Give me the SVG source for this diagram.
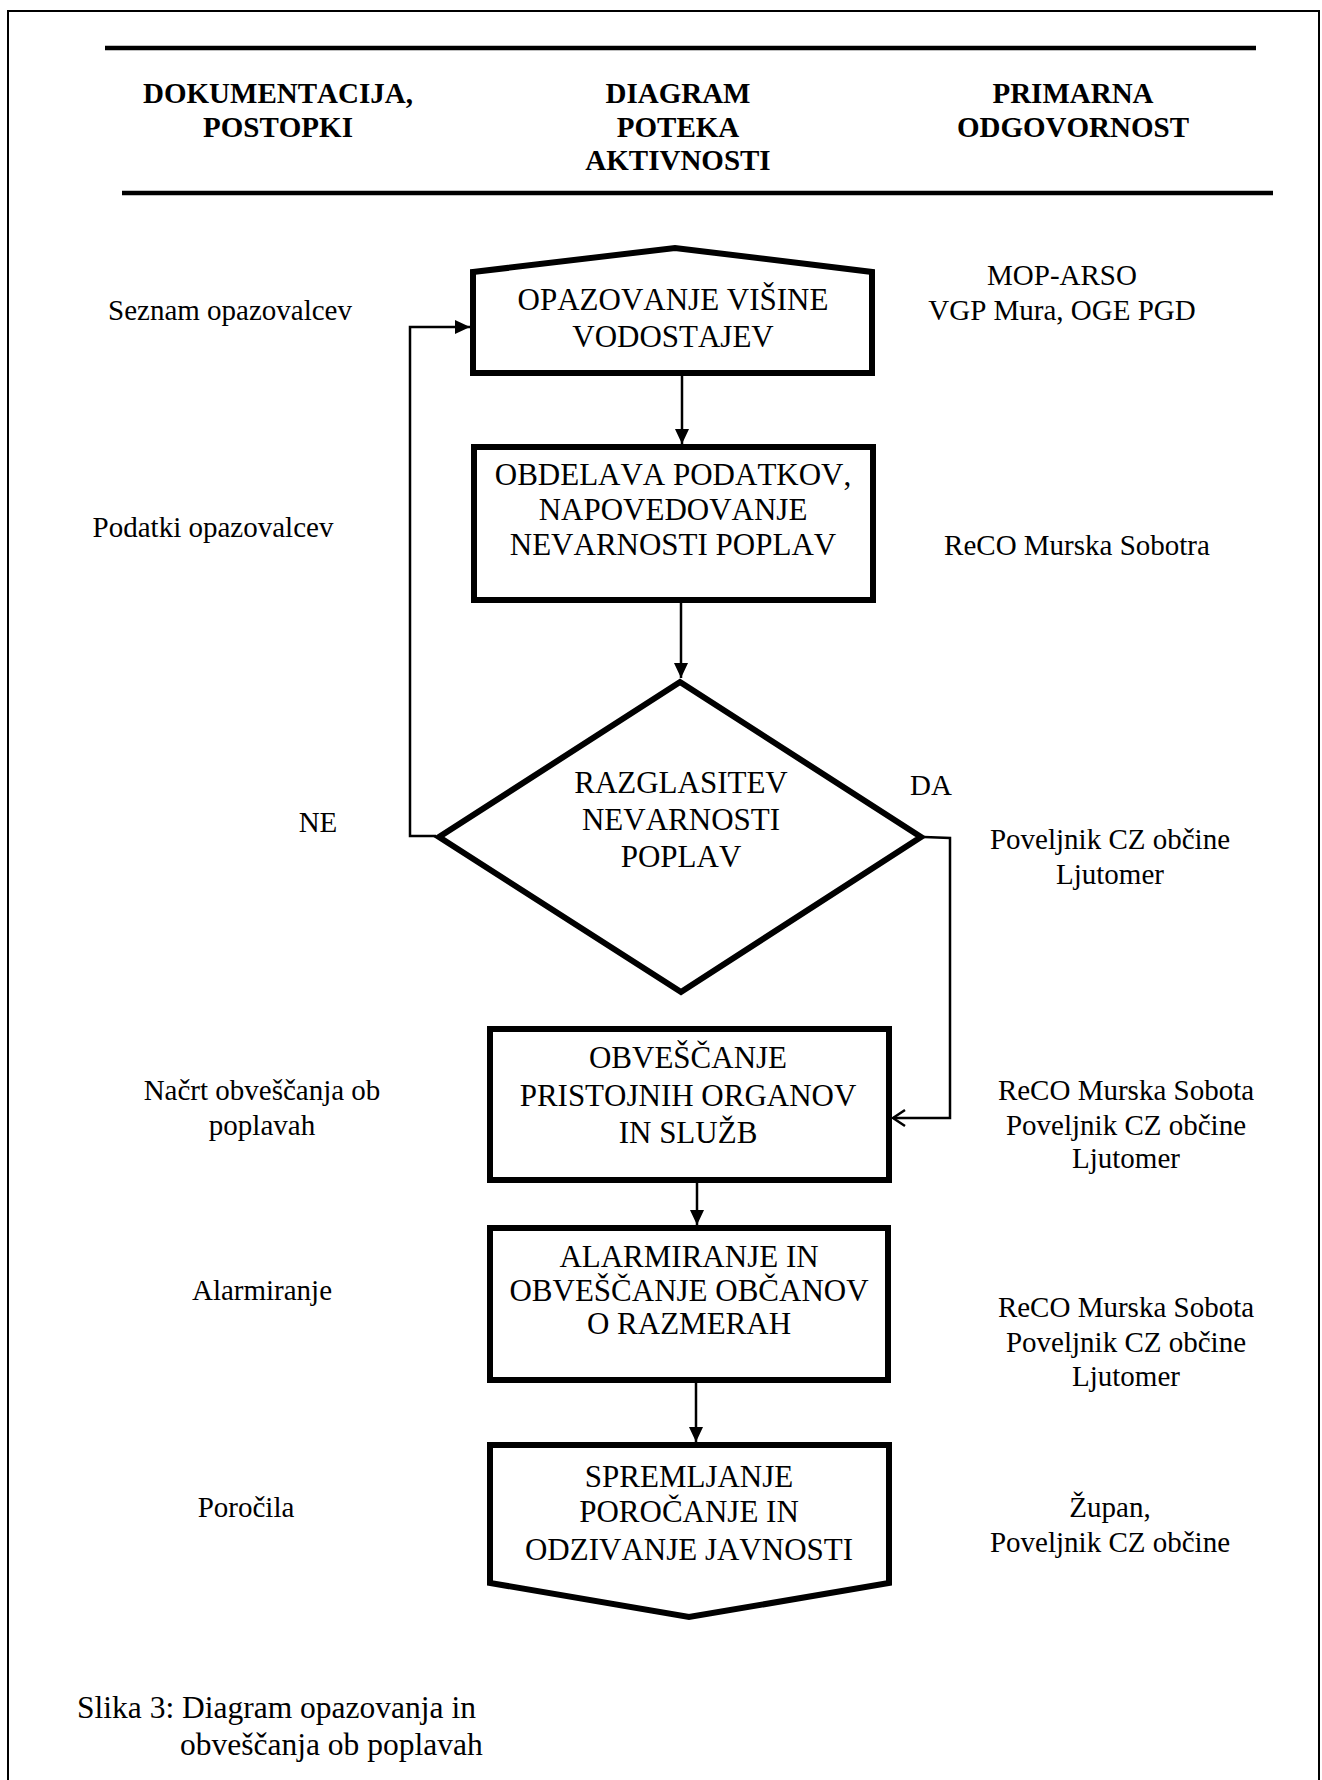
<svg xmlns="http://www.w3.org/2000/svg" width="1322" height="1780" viewBox="0 0 1322 1780">
<style>
text{font-family:"Liberation Serif","Times New Roman",serif;fill:#000;font-kerning:none}
.h{font-size:29px;font-weight:bold;text-anchor:middle}
.n{font-size:31px;text-anchor:middle}
.s{font-size:29px;text-anchor:middle}
.cap{font-size:31.5px}
.shape{fill:#fff;stroke:#000;stroke-width:6;stroke-linejoin:miter}
.con{fill:none;stroke:#000;stroke-width:2.5}
.rule{stroke:#000;stroke-width:4.5}
</style>
<defs>
<marker id="arr" markerUnits="userSpaceOnUse" markerWidth="15" markerHeight="14" refX="15" refY="7" orient="auto" overflow="visible">
<path d="M0,0 L15,7 L0,14 z" fill="#000"/>
</marker>
<marker id="open" markerUnits="userSpaceOnUse" markerWidth="14" markerHeight="18" refX="13" refY="9" orient="auto" overflow="visible">
<path d="M1,1 L13,9 L1,17" fill="none" stroke="#000" stroke-width="2.5"/>
</marker>
</defs>
<rect width="1322" height="1780" fill="#fff"/>
<path d="M8,1780 V11 H1319 V1780" fill="none" stroke="#000" stroke-width="2"/>
<g id="header">
<line class="rule" x1="105" y1="48" x2="1256" y2="48"/>
<line class="rule" x1="122" y1="193" x2="1273" y2="193"/>
<text class="h" x="278" y="103">DOKUMENTACIJA,</text>
<text class="h" x="278" y="137">POSTOPKI</text>
<text class="h" x="678" y="103">DIAGRAM</text>
<text class="h" x="678" y="137">POTEKA</text>
<text class="h" x="678" y="170">AKTIVNOSTI</text>
<text class="h" x="1073" y="103">PRIMARNA</text>
<text class="h" x="1073" y="137">ODGOVORNOST</text>
</g>
<g id="connectors">
<line class="con" x1="682" y1="376" x2="682" y2="444" marker-end="url(#arr)"/>
<line class="con" x1="681" y1="603" x2="681" y2="678" marker-end="url(#arr)"/>
<polyline class="con" points="436,836 410,836 410,327 470,327" marker-end="url(#arr)"/>
<polyline class="con" points="924,837 950,838 950,1118 893,1118" marker-end="url(#open)"/>
<line class="con" x1="697" y1="1183" x2="697" y2="1225" marker-end="url(#arr)"/>
<line class="con" x1="696" y1="1383" x2="696" y2="1442" marker-end="url(#arr)"/>
</g>
<g id="n1">
<polygon class="shape" points="473,272 675,248 872,272 872,373 473,373"/>
<text class="n" x="673" y="310">OPAZOVANJE VIŠINE</text>
<text class="n" x="673" y="347">VODOSTAJEV</text>
</g>
<g id="n2">
<rect class="shape" x="474" y="447" width="399" height="153"/>
<text class="n" x="673" y="485">OBDELAVA PODATKOV,</text>
<text class="n" x="673" y="520">NAPOVEDOVANJE</text>
<text class="n" x="673" y="555">NEVARNOSTI POPLAV</text>
</g>
<g id="d1">
<polygon class="shape" points="680,682 921,837 681,992 439,837"/>
<text class="n" x="681" y="793">RAZGLASITEV</text>
<text class="n" x="681" y="830">NEVARNOSTI</text>
<text class="n" x="681" y="867">POPLAV</text>
</g>
<g id="n3">
<rect class="shape" x="490" y="1029" width="399" height="151"/>
<text class="n" x="688" y="1068">OBVEŠČANJE</text>
<text class="n" x="688" y="1106">PRISTOJNIH ORGANOV</text>
<text class="n" x="688" y="1143">IN SLUŽB</text>
</g>
<g id="n4">
<rect class="shape" x="490" y="1228" width="398" height="152"/>
<text class="n" x="689" y="1267">ALARMIRANJE IN</text>
<text class="n" x="689" y="1301">OBVEŠČANJE OBČANOV</text>
<text class="n" x="689" y="1334">O RAZMERAH</text>
</g>
<g id="n5">
<polygon class="shape" points="490,1445 889,1445 889,1583 689,1617 490,1583"/>
<text class="n" x="689" y="1487">SPREMLJANJE</text>
<text class="n" x="689" y="1522">POROČANJE IN</text>
<text class="n" x="689" y="1560">ODZIVANJE JAVNOSTI</text>
</g>
<g id="labels">
<text class="s" x="318" y="832">NE</text>
<text class="s" x="931" y="795">DA</text>
</g>
<g id="docs">
<text class="s" x="230" y="320">Seznam opazovalcev</text>
<text class="s" x="213" y="537">Podatki opazovalcev</text>
<text class="s" x="262" y="1100">Načrt obveščanja ob</text>
<text class="s" x="262" y="1135">poplavah</text>
<text class="s" x="262" y="1300">Alarmiranje</text>
<text class="s" x="246" y="1517">Poročila</text>
</g>
<g id="resp">
<text class="s" x="1062" y="285">MOP-ARSO</text>
<text class="s" x="1062" y="320">VGP Mura, OGE PGD</text>
<text class="s" x="1077" y="555">ReCO Murska Sobotra</text>
<text class="s" x="1110" y="849">Poveljnik CZ občine</text>
<text class="s" x="1110" y="884">Ljutomer</text>
<text class="s" x="1126" y="1100">ReCO Murska Sobota</text>
<text class="s" x="1126" y="1135">Poveljnik CZ občine</text>
<text class="s" x="1126" y="1168">Ljutomer</text>
<text class="s" x="1126" y="1317">ReCO Murska Sobota</text>
<text class="s" x="1126" y="1352">Poveljnik CZ občine</text>
<text class="s" x="1126" y="1386">Ljutomer</text>
<text class="s" x="1110" y="1517">Župan,</text>
<text class="s" x="1110" y="1552">Poveljnik CZ občine</text>
</g>
<g id="caption">
<text class="cap" x="77" y="1718">Slika 3: Diagram opazovanja in</text>
<text class="cap" x="180" y="1755">obveščanja ob poplavah</text>
</g>
</svg>
